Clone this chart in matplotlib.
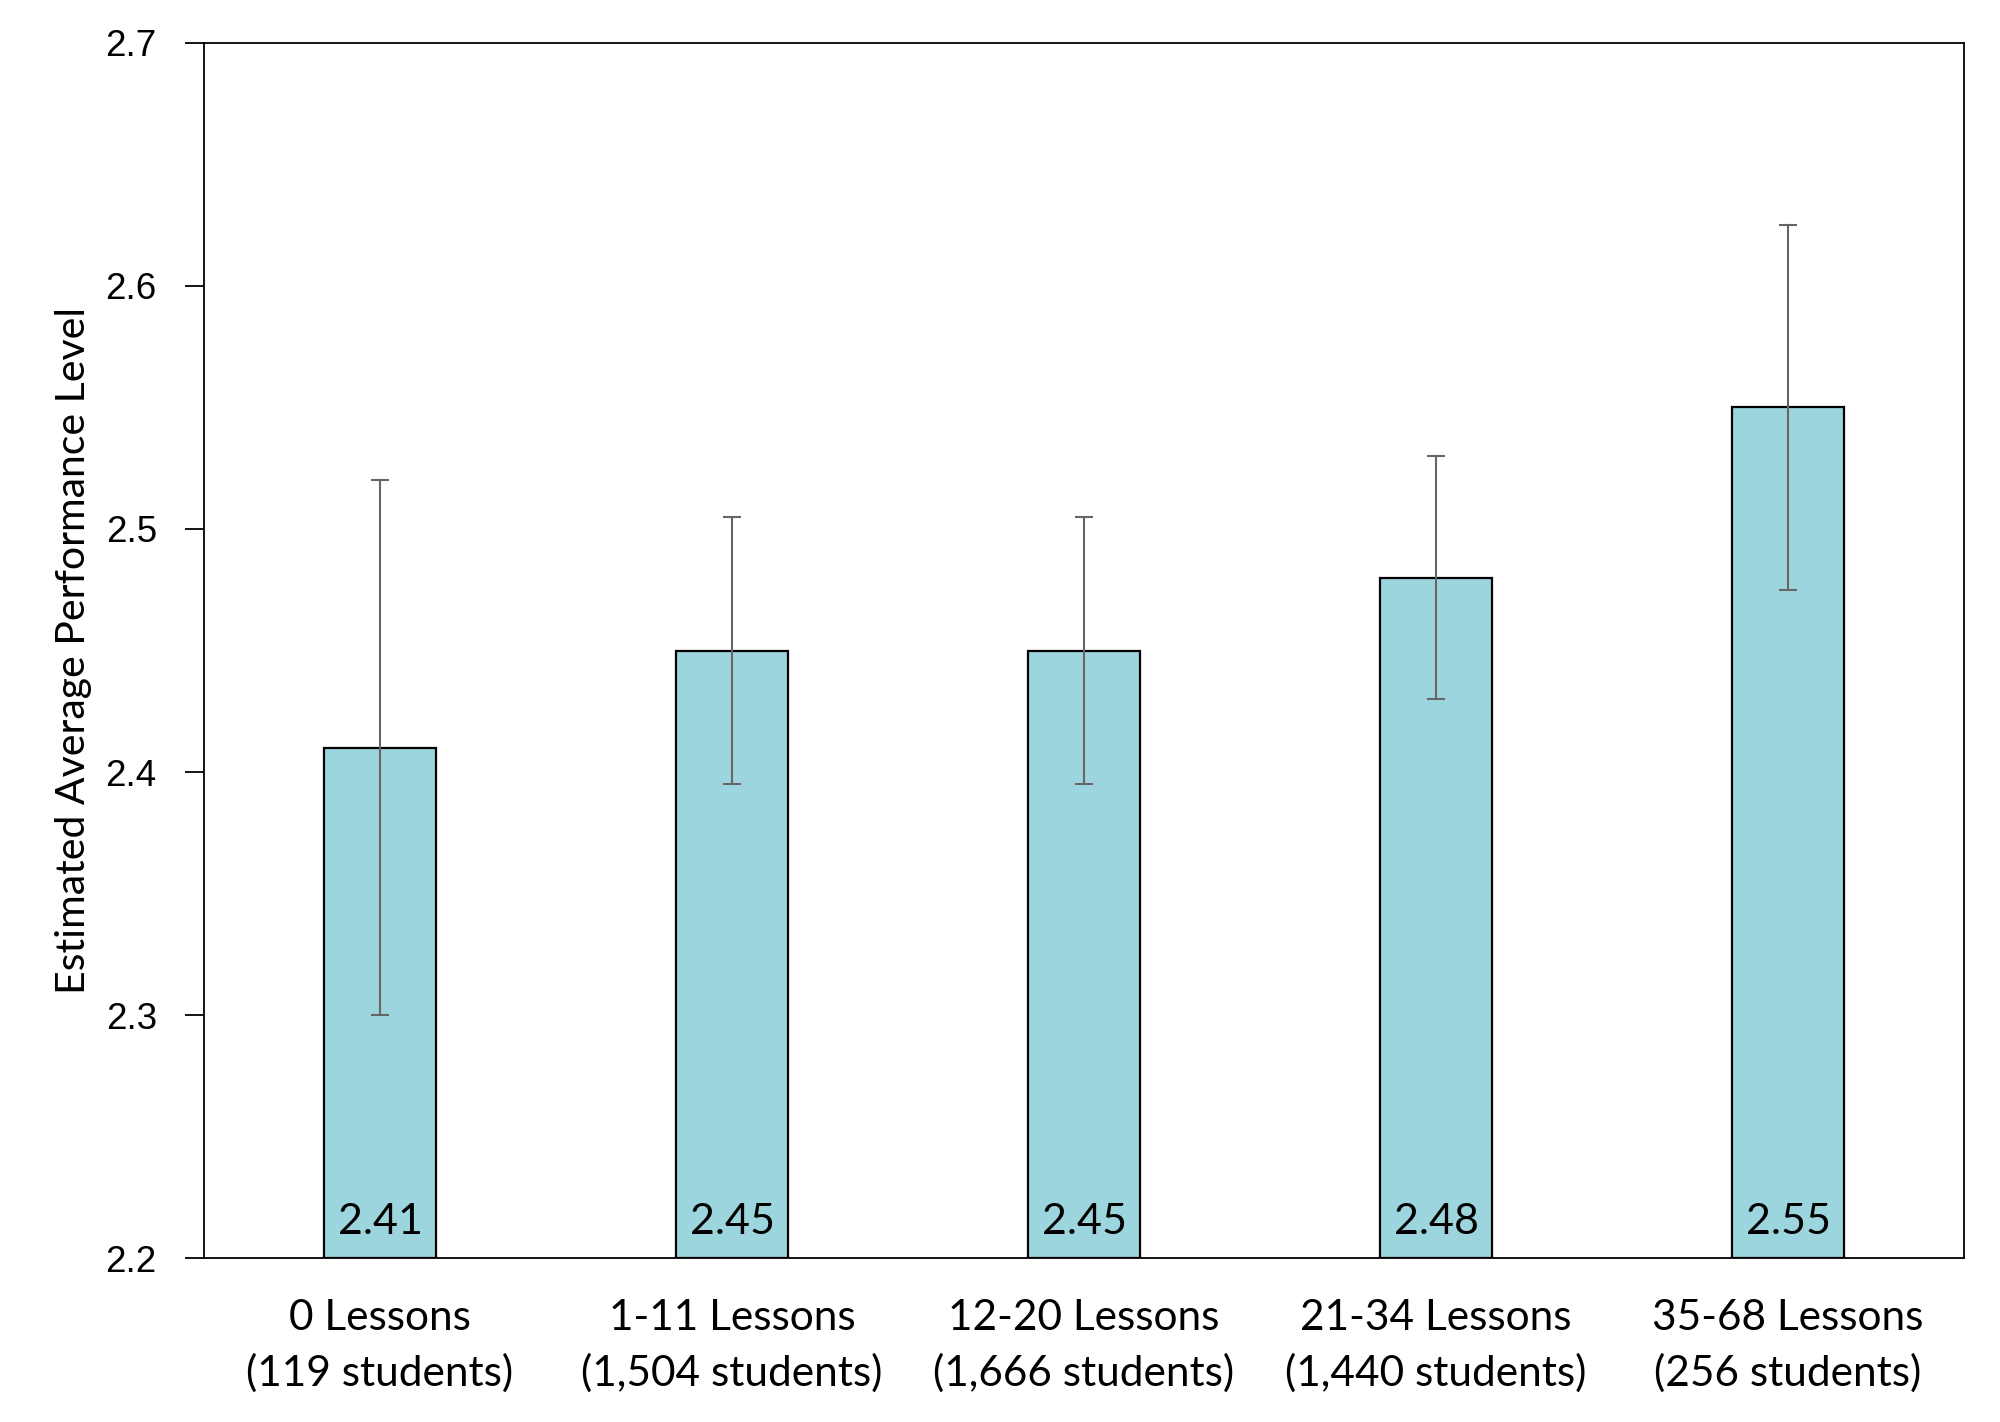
import numpy as np
import matplotlib.pyplot as plt

categories = ['0 Lessons\n(119 students)', '1-11 Lessons\n(1,504 students)',
              '12-20 Lessons\n(1,666 students)', '21-34 Lessons\n(1,440 students)',
              '35-68 Lessons\n(256 students)']
means = [2.41, 2.45, 2.45, 2.48, 2.55]
lower = [2.30, 2.395, 2.395, 2.43, 2.475]
upper = [2.52, 2.505, 2.505, 2.53, 2.625]
yticks = [2.2, 2.3, 2.4, 2.5, 2.6, 2.7]


def plotPerformance():
    fig = plt.figure(figsize=(20, 14.22), dpi=100)
    ax = fig.add_axes([0.102, 0.115, 0.880, 0.855])

    x = np.arange(len(means))
    m = np.array(means)
    yerr = [m - np.array(lower), np.array(upper) - m]

    ax.bar(x, m - 2.2, bottom=2.2, width=0.316, color='#9dd5df',
           edgecolor='black', linewidth=1.6, zorder=2)
    ax.errorbar(x, m, yerr=yerr, fmt='none', ecolor='#666666',
                elinewidth=1.5, capsize=6.5, capthick=1.5, zorder=3)

    for xi, v in zip(x, means):
        ax.text(xi, 2.2 + 0.007, f'{v:.2f}', ha='center', va='bottom',
                fontsize=31, family='Lato', zorder=4)

    ax.set_xlim(-0.5, 4.5)
    ax.set_ylim(2.2, 2.7)
    ax.set_yticks(yticks)
    ax.set_yticklabels([f'{t:.1f}' for t in yticks], fontsize=26.5,
                       family='Liberation Sans')
    ax.tick_params(axis='y', length=14, width=1.3, pad=20)
    ax.set_xticks(x)
    ax.set_xticklabels(categories, fontsize=30.5, family='Lato', linespacing=1.5)
    ax.tick_params(axis='x', length=0, pad=29)
    for s in ax.spines.values():
        s.set_linewidth(1.3)

    ax.set_ylabel('Estimated Average Performance Level', fontsize=29.5,
                  family='Lato', labelpad=10)

    fig.savefig('out.png', dpi=100)


def main():
    plotPerformance()
    return


if __name__ == "__main__":
    main()
